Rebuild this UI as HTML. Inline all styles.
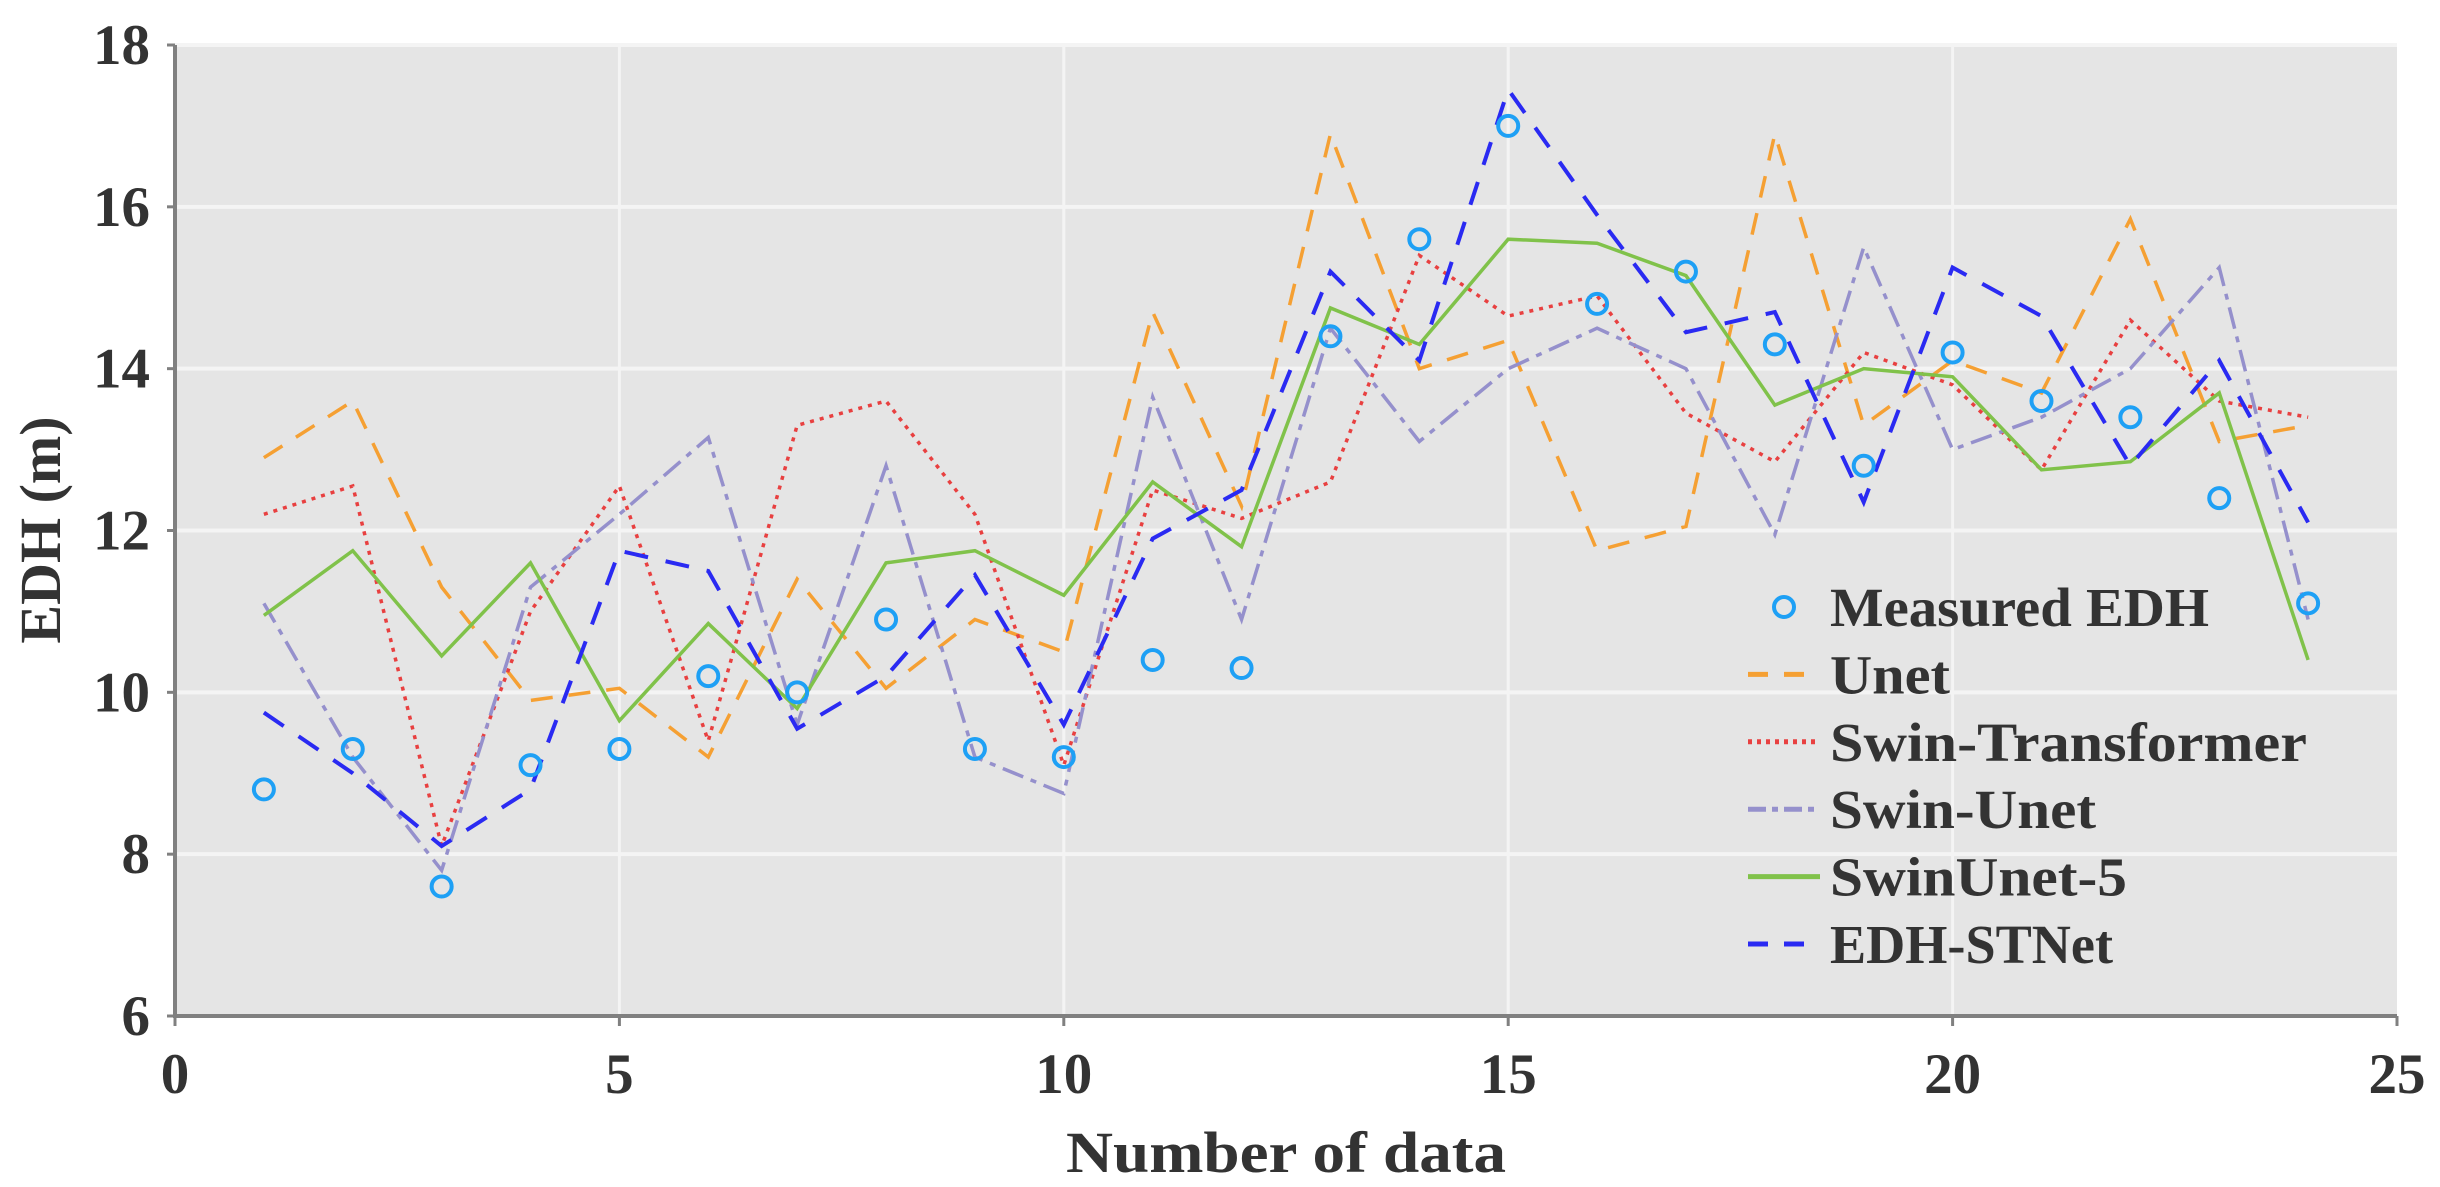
<!DOCTYPE html>
<html><head><meta charset="utf-8"><style>
html,body{margin:0;padding:0;background:#fff;}
svg{display:block;}
text{font-family:"Liberation Serif",serif;font-weight:bold;fill:#333;}
</style></head><body>
<svg id="chart" width="2440" height="1187" viewBox="0 0 2440 1187" xmlns="http://www.w3.org/2000/svg">
<g id="plot"></g>
</svg>
<script>
const xs = [1,2,3,4,5,6,7,8,9,10,11,12,13,14,15,16,17,18,19,20,21,22,23,24];
const measured = [8.8,9.3,7.6,9.1,9.3,10.2,10.0,10.9,9.3,9.2,10.4,10.3,14.4,15.6,17.0,14.8,15.2,14.3,12.8,14.2,13.6,13.4,12.4,11.1];
const unet = [12.9,13.6,11.3,9.9,10.05,9.2,11.4,10.05,10.9,10.5,14.7,12.3,16.9,14.0,14.35,11.75,12.05,16.9,13.3,14.1,13.7,15.85,13.1,13.3];
const swinT = [12.2,12.55,8.1,11.0,12.55,9.4,13.3,13.6,12.2,9.1,12.5,12.15,12.6,15.4,14.65,14.9,13.45,12.85,14.2,13.8,12.75,14.6,13.6,13.4];
const swinUnet = [11.1,9.2,7.8,11.3,12.2,13.15,9.6,12.8,9.2,8.75,13.65,10.9,14.5,13.1,14.0,14.5,14.0,11.95,15.5,13.0,13.4,14.0,15.25,10.9];
const swinUnet5 = [10.95,11.75,10.45,11.6,9.65,10.85,9.8,11.6,11.75,11.2,12.6,11.8,14.75,14.3,15.6,15.55,15.15,13.55,14.0,13.9,12.75,12.85,13.7,10.4];
const edhSTNet = [9.75,9.0,8.1,8.8,11.75,11.5,9.55,10.2,11.45,9.6,11.9,12.5,15.2,14.1,17.45,15.9,14.45,14.7,12.35,15.25,14.65,12.8,14.1,12.1];
const xTicks = [0,5,10,15,20,25];
const yTicks = [6,8,10,12,14,16,18];
const legendLabels = ['Measured EDH','Unet','Swin-Transformer','Swin-Unet','SwinUnet-5','EDH-STNet'];

const L=175,R=2397,T=45,B=1016;
const sx=v=>L+(v-0)/(25-0)*(R-L);
const sy=v=>B-(v-6)/(18-6)*(B-T);
const NS='http://www.w3.org/2000/svg';
const g=document.getElementById('plot');
function mk(tag,attrs,parent){const e=document.createElementNS(NS,tag);for(const k in attrs)e.setAttribute(k,attrs[k]);(parent||g).appendChild(e);return e;}

const bg=mk('rect',{x:L,y:T,width:R-L,height:B-T,fill:'#e5e5e5'});


yTicks.forEach(v=>{
  const ln=mk('line',{x1:L,x2:R,y1:sy(v),y2:sy(v),stroke:'#f4f4f4','stroke-width':4});
  
  
  const tk=mk('line',{x1:L-8,x2:L,y1:sy(v),y2:sy(v),stroke:'#808080','stroke-width':3});
  
  
  const t=mk('text',{x:150,y:sy(v)+19,'text-anchor':'end','font-size':57});
  t.textContent=v;
  
  
});
xTicks.forEach(v=>{
  if(v>0&&v<25){const ln=mk('line',{x1:sx(v),x2:sx(v),y1:T,y2:B,stroke:'#f4f4f4','stroke-width':3});
  
  }
  const tk=mk('line',{x1:sx(v),x2:sx(v),y1:B,y2:B+10,stroke:'#808080','stroke-width':3});
  
  
  const t=mk('text',{x:sx(v),y:1093,'text-anchor':'middle','font-size':57});
  t.textContent=v;
  
  
});
const ax=mk('path',{d:`M${L},${T} L${L},${B} L${R},${B}`,fill:'none',stroke:'#808080','stroke-width':4});



const series=[
 {name:'unet-line',data:unet,color:'#f5a033',dash:'22 16',w:3.5},
 {name:'swin-transformer-line',data:swinT,color:'#e84040',dash:'4 6',w:3.5},
 {name:'swin-unet-line',data:swinUnet,color:'#9590cc',dash:'22 8 6 8',w:3.5},
 {name:'swinunet-5-line',data:swinUnet5,color:'#80c24a',dash:'',w:3.5},
 {name:'edh-stnet-line',data:edhSTNet,color:'#2a2af2',dash:'24 18',w:4}
];
series.forEach(s=>{
  const d=s.data.map((v,i)=>(i?'L':'M')+sx(xs[i])+','+sy(v)).join(' ');
  const p=mk('path',{d,fill:'none',stroke:s.color,'stroke-width':s.w,'stroke-dasharray':s.dash});
  
  
});
measured.forEach((v,i)=>{
  const c=mk('circle',{cx:sx(xs[i]),cy:sy(v),r:10,fill:'none',stroke:'#1ea0f5','stroke-width':4});
  
  
});

// legend
const legStyle=[
 {color:'#1ea0f5',dash:null,w:4,len:379},
 {color:'#f5a033',dash:'20 16',w:5,len:120},
 {color:'#e84040',dash:'4 5',w:5,len:477},
 {color:'#9590cc',dash:'18 6 6 6',w:5,len:266},
 {color:'#80c24a',dash:'',w:5,len:297},
 {color:'#2a2af2',dash:'20 16',w:5,len:283}
];
const lg=mk('g',{});


legStyle.forEach((e,i)=>{
  const y=607+i*67.4;
  if(e.dash===null){const c=mk('circle',{cx:1784,cy:y,r:10,fill:'none',stroke:e.color,'stroke-width':4},lg);
    
    }
  else{const l=mk('line',{x1:1748,x2:1820,y1:y,y2:y,stroke:e.color,'stroke-width':e.w,'stroke-dasharray':e.dash},lg);
    
    }
  const t=mk('text',{x:1830,y:y+19,'font-size':55,fill:'#111',textLength:e.len,lengthAdjust:'spacingAndGlyphs'},lg);
  t.textContent=legendLabels[i];
  
  
});

const xt=mk('text',{x:1286,y:1172,'text-anchor':'middle','font-size':58,textLength:440,lengthAdjust:'spacingAndGlyphs'});
xt.textContent='Number of data';


const yt=mk('text',{x:0,y:0,'text-anchor':'middle','font-size':58,transform:'translate(60,530) rotate(-90)'});
yt.textContent='EDH (m)';


</script>
</body></html>
